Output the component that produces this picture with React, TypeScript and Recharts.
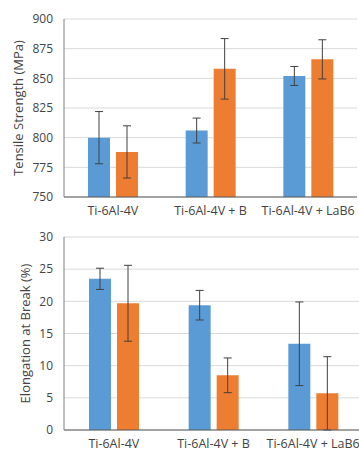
import React from "react";
import { BarChart, Bar, XAxis, YAxis, CartesianGrid, ErrorBar, Label } from "recharts";

const categories = ["Ti-6Al-4V", "Ti-6Al-4V + B", "Ti-6Al-4V + LaB6"];

const tensileBlue = [800, 806, 852];
const tensileBlueErr = [22, 10.5, 8];
const tensileOrange = [788, 858, 866];
const tensileOrangeErr = [22, 25.5, 16.5];
const tensileTicks = [750, 775, 800, 825, 850, 875, 900];

const elongBlue = [23.5, 19.4, 13.4];
const elongBlueErr = [1.65, 2.3, 6.5];
const elongOrange = [19.7, 8.5, 5.7];
const elongOrangeErr = [5.9, 2.7, 5.7];
const elongTicks = [0, 5, 10, 15, 20, 25, 30];

const tensileData = categories.map((name, i) => ({
  name,
  blue: tensileBlue[i],
  blueErr: tensileBlueErr[i],
  orange: tensileOrange[i],
  orangeErr: tensileOrangeErr[i],
}));

const elongData = categories.map((name, i) => ({
  name,
  blue: elongBlue[i],
  blueErr: elongBlueErr[i],
  orange: elongOrange[i],
  orangeErr: elongOrangeErr[i],
}));

const FONT = "'Open Sans', sans-serif";
const TEXT = "#444444";
const BLUE = "#5B9BD5";
const ORANGE = "#ED7D31";
const ERR = "#404040";

function axisTitle(text: string, x: number) {
  return (
    <Label
      content={(props: any) => {
        const vb = props.viewBox || {};
        const cy = vb.y + vb.height / 2;
        return (
          <text
            x={x}
            y={cy}
            transform={`rotate(-90, ${x}, ${cy})`}
            textAnchor="middle"
            dominantBaseline="central"
            fill={TEXT}
            fontSize={13}
            fontFamily={FONT}
          >
            {text}
          </text>
        );
      }}
    />
  );
}

function Panel({
  data,
  width,
  height,
  margin,
  xHeight,
  domain,
  ticks,
  title,
  titleX,
}: {
  data: any[];
  width: number;
  height: number;
  margin: { top: number; right: number; left: number; bottom: number };
  xHeight: number;
  domain: [number, number];
  ticks: number[];
  title: string;
  titleX: number;
}) {
  return (
    <BarChart width={width} height={height} data={data} margin={margin} barSize={22} barGap={6}>
      <CartesianGrid vertical={false} stroke="#d9d9d9" />
      <XAxis
        dataKey="name"
        height={xHeight}
        tick={{ fill: TEXT, fontSize: 12.5, fontFamily: FONT }}
        tickLine={false}
        tickSize={4}
        tickMargin={5}
        axisLine={{ stroke: "#595959" }}
        interval={0}
      />
      <YAxis
        width={64}
        domain={domain}
        ticks={ticks}
        interval={0}
        tick={{ fill: TEXT, fontSize: 12, fontFamily: FONT }}
        tickLine={false}
        tickSize={6}
        tickMargin={5}
        axisLine={{ stroke: "#7f7f7f" }}
        allowDataOverflow
      >
        {axisTitle(title, titleX)}
      </YAxis>
      <Bar dataKey="blue" fill={BLUE} isAnimationActive={false}>
        <ErrorBar dataKey="blueErr" width={4} stroke={ERR} strokeWidth={1} direction="y" />
      </Bar>
      <Bar dataKey="orange" fill={ORANGE} isAnimationActive={false}>
        <ErrorBar dataKey="orangeErr" width={4} stroke={ERR} strokeWidth={1} direction="y" />
      </Bar>
    </BarChart>
  );
}

export default function App() {
  return (
    <div
      style={{
        position: "absolute",
        left: 0,
        top: 0,
        width: 359,
        height: 455,
        overflow: "hidden",
        background: "#fff",
      }}
    >
      <div style={{ position: "absolute", left: 0, top: 0 }}>
        <Panel
          data={tensileData}
          width={359}
          height={228}
          margin={{ top: 19, right: 2, left: 0, bottom: 0 }}
          xHeight={31}
          domain={[750, 900]}
          ticks={tensileTicks}
          title="Tensile Strength (MPa)"
          titleX={18}
        />
      </div>
      <div style={{ position: "absolute", left: 0, top: 225 }}>
        <Panel
          data={elongData}
          width={364}
          height={230}
          margin={{ top: 12, right: 1, left: 0, bottom: 0 }}
          xHeight={25}
          domain={[0, 30]}
          ticks={elongTicks}
          title="Elongation at Break (%)"
          titleX={25}
        />
      </div>
    </div>
  );
}
